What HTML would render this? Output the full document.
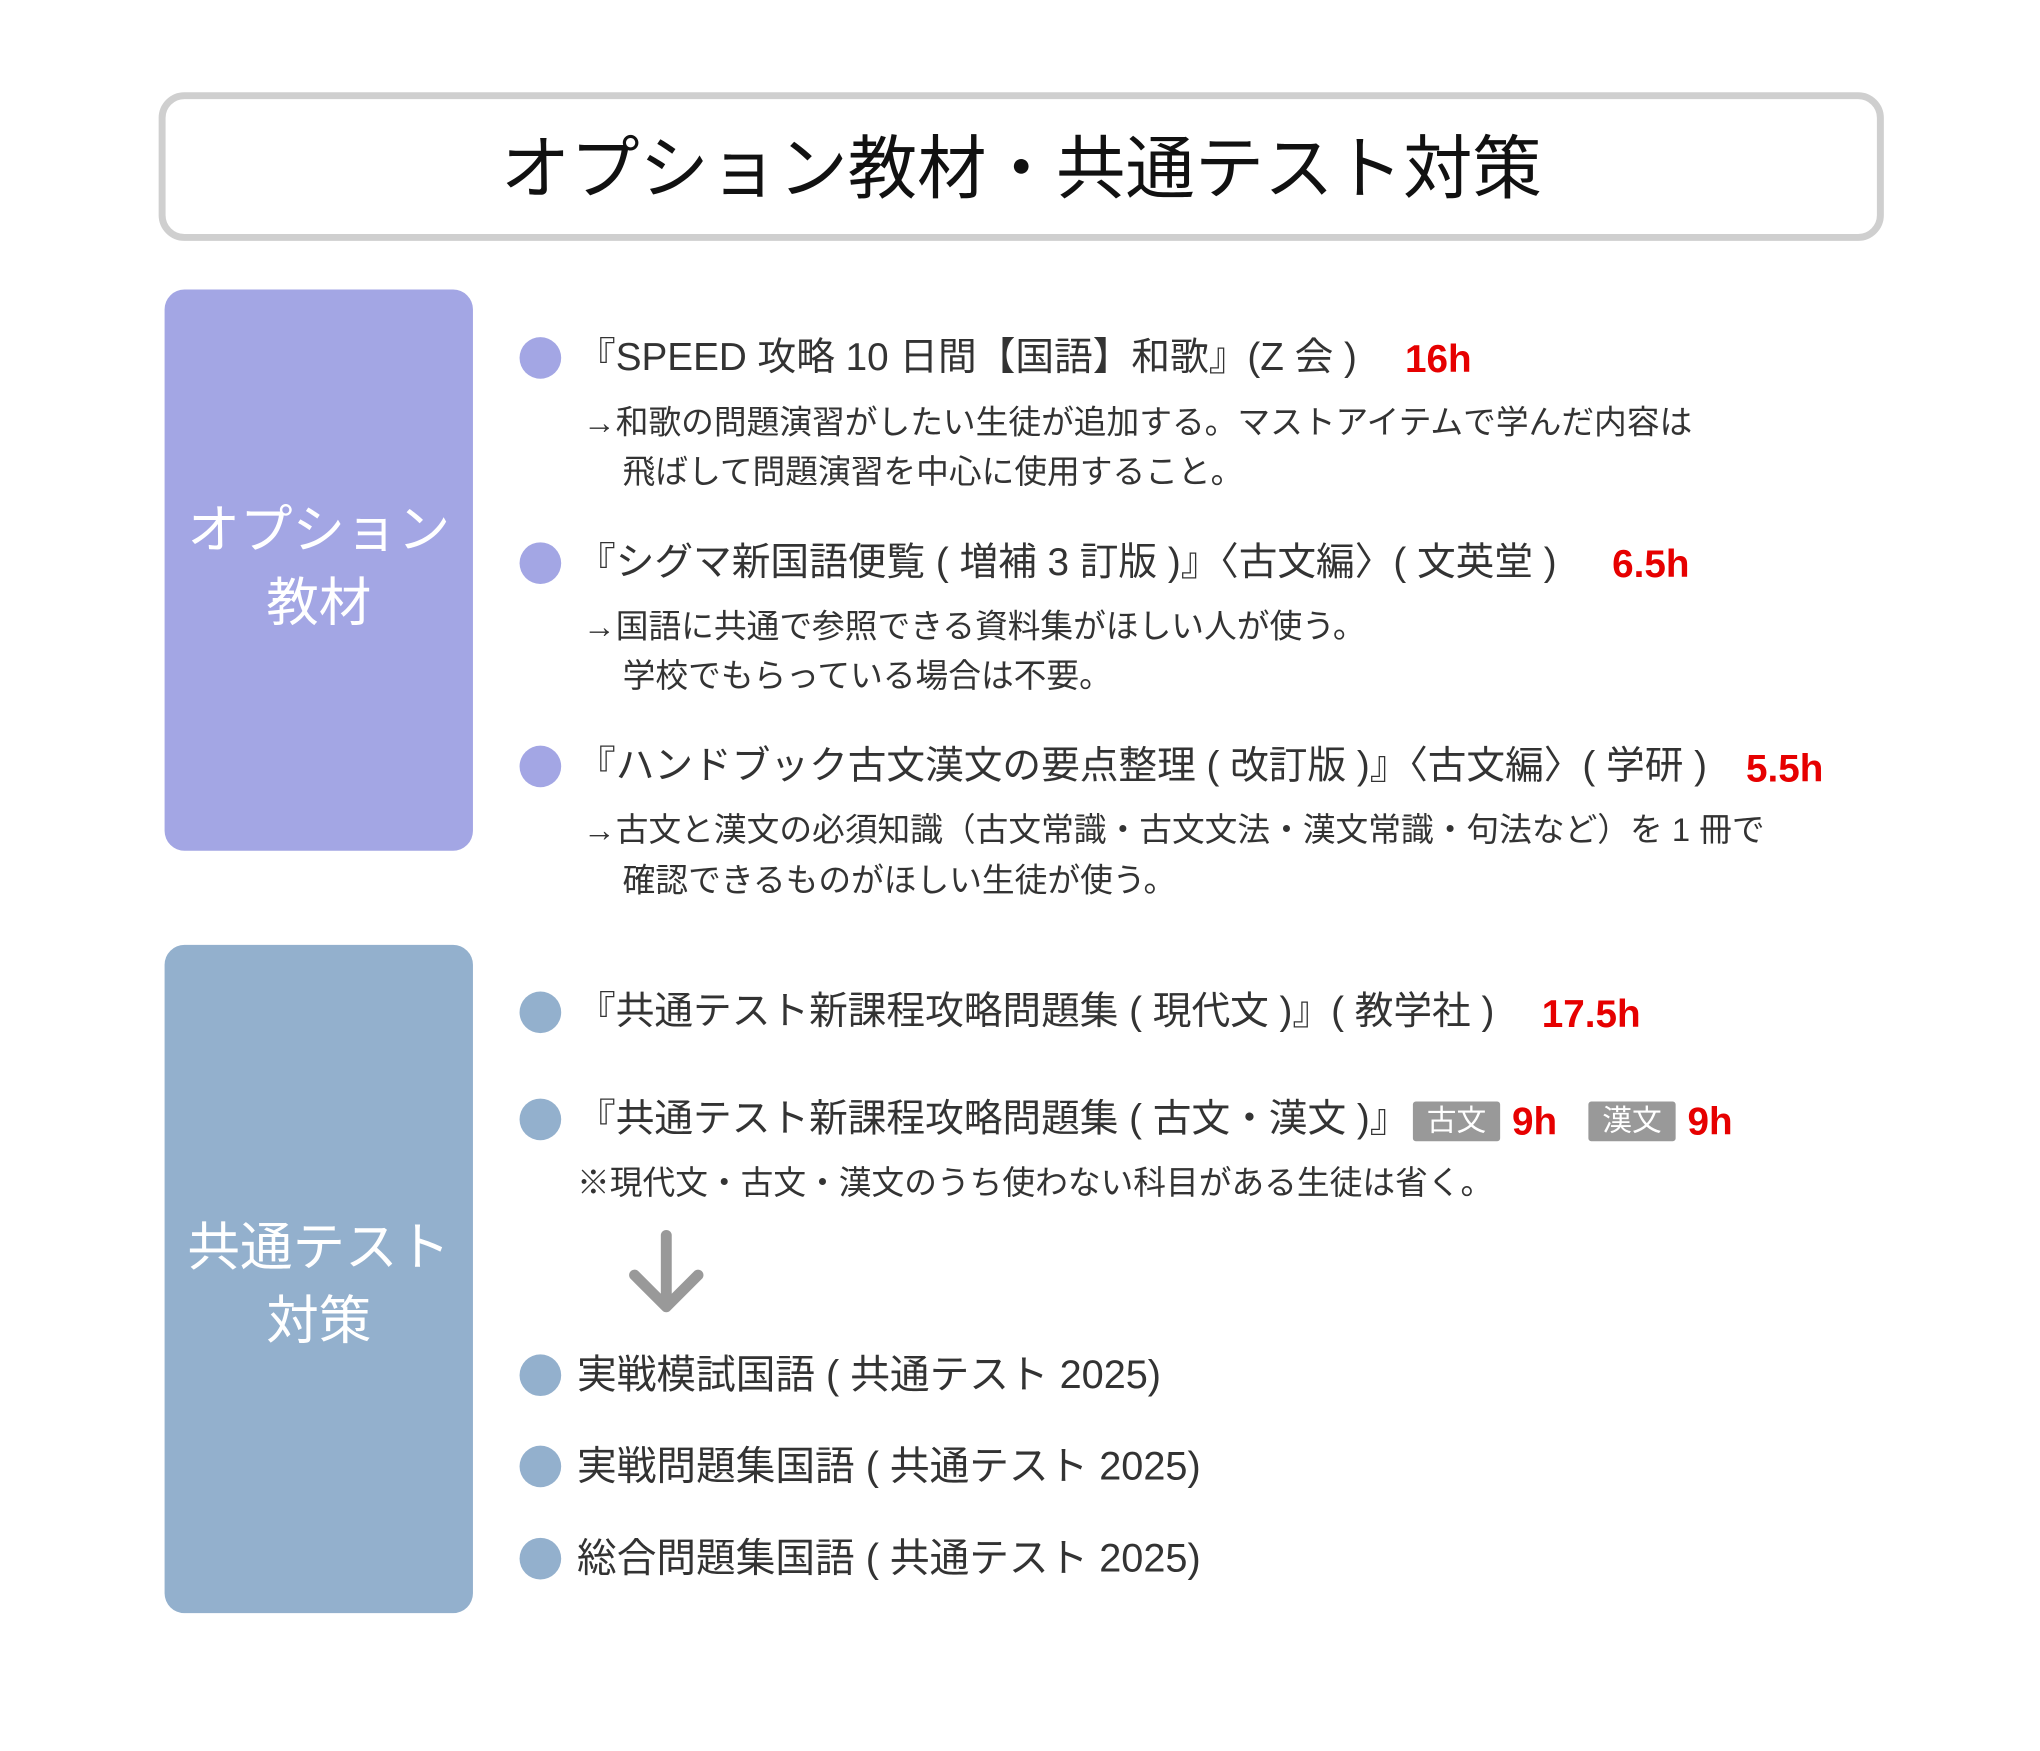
<!DOCTYPE html>
<html><head><meta charset="utf-8"><style>
body{margin:0;width:2040px;height:1751px;background:#fff;position:relative;overflow:hidden;font-family:"Liberation Sans","Noto Sans CJK JP",sans-serif;color:#333}
#w{position:absolute;left:0;top:0;width:2040px;height:1751px;transform:scale(0.9915);transform-origin:0 0}
.a{position:absolute;white-space:nowrap}
.t{font-size:39px;height:52px;line-height:52px;left:582px}
.n{font-size:33px;height:40px;line-height:40px}
.h{color:#e60000;font-weight:bold;font-size:39px;height:52px;line-height:52px}
.dot{position:absolute;width:42px;height:42px;border-radius:50%;left:524px}
.p{background:#a3a6e4}.b{background:#93b0cd}
.tag{position:absolute;background:#999;color:#fff;font-size:30px;line-height:40px;height:40px;width:88px;text-align:center;border-radius:3px}
.lab{position:absolute;left:166px;width:311px;text-align:center;color:#fff;font-size:53px;line-height:74px}
</style></head><body><div id="w">
<div class="a" style="left:160px;top:93px;width:1726px;height:136px;border:7px solid #cfcfcf;border-radius:26px"></div>
<div class="a" style="left:160px;width:1740px;top:130px;text-align:center;font-size:70px;line-height:80px;color:#111">オプション教材・共通テスト対策</div>

<div class="a p" style="left:166px;top:292px;width:311px;height:566px;border-radius:20px"></div>
<div class="lab" style="top:498px">オプション<br>教材</div>
<div class="a b" style="left:166px;top:953px;width:311px;height:674px;border-radius:20px"></div>
<div class="lab" style="top:1222px">共通テスト<br>対策</div>

<div class="dot p" style="top:340px"></div>
<div class="a t" style="top:335px">『SPEED 攻略 10 日間【国語】和歌』(Z 会 )</div>
<div class="a h" style="left:1417px;top:337px">16h</div>
<div class="a n" style="left:588px;top:406px">→和歌の問題演習がしたい生徒が追加する。マストアイテムで学んだ内容は</div>
<div class="a n" style="left:628px;top:456px">飛ばして問題演習を中心に使用すること。</div>

<div class="dot p" style="top:547px"></div>
<div class="a t" style="top:542px">『シグマ新国語便覧 ( 増補 3 訂版 )』〈古文編〉( 文英堂 )</div>
<div class="a h" style="left:1626px;top:544px">6.5h</div>
<div class="a n" style="left:588px;top:612px">→国語に共通で参照できる資料集がほしい人が使う。</div>
<div class="a n" style="left:628px;top:662px">学校でもらっている場合は不要。</div>

<div class="dot p" style="top:752px"></div>
<div class="a t" style="top:747px">『ハンドブック古文漢文の要点整理 ( 改訂版 )』〈古文編〉( 学研 )</div>
<div class="a h" style="left:1761px;top:750px">5.5h</div>
<div class="a n" style="left:588px;top:817px">→古文と漢文の必須知識（古文常識・古文文法・漢文常識・句法など）を 1 冊で</div>
<div class="a n" style="left:628px;top:868px">確認できるものがほしい生徒が使う。</div>

<div class="dot b" style="top:1000px"></div>
<div class="a t" style="top:995px">『共通テスト新課程攻略問題集 ( 現代文 )』( 教学社 )</div>
<div class="a h" style="left:1555px;top:998px">17.5h</div>

<div class="dot b" style="top:1108px"></div>
<div class="a t" style="top:1103px">『共通テスト新課程攻略問題集 ( 古文・漢文 )』</div>
<div class="tag" style="left:1425px;top:1111px">古文</div>
<div class="a h" style="left:1525px;top:1106px">9h</div>
<div class="tag" style="left:1602px;top:1111px">漢文</div>
<div class="a h" style="left:1702px;top:1106px">9h</div>
<div class="a n" style="left:582px;top:1173px">※現代文・古文・漢文のうち使わない科目がある生徒は省く。</div>

<svg class="a" style="left:630px;top:1240px" width="84" height="90"><path d="M42 6 V78 M10 46 L42 78 L74 46" stroke="#999" stroke-width="11" fill="none" stroke-linecap="round" stroke-linejoin="round"/></svg>

<div class="dot b" style="top:1366px"></div>
<div class="a t" style="top:1361px;font-size:40px">実戦模試国語 ( 共通テスト 2025)</div>
<div class="dot b" style="top:1458px"></div>
<div class="a t" style="top:1453px;font-size:40px">実戦問題集国語 ( 共通テスト 2025)</div>
<div class="dot b" style="top:1551px"></div>
<div class="a t" style="top:1546px;font-size:40px">総合問題集国語 ( 共通テスト 2025)</div>
</div></body></html>
